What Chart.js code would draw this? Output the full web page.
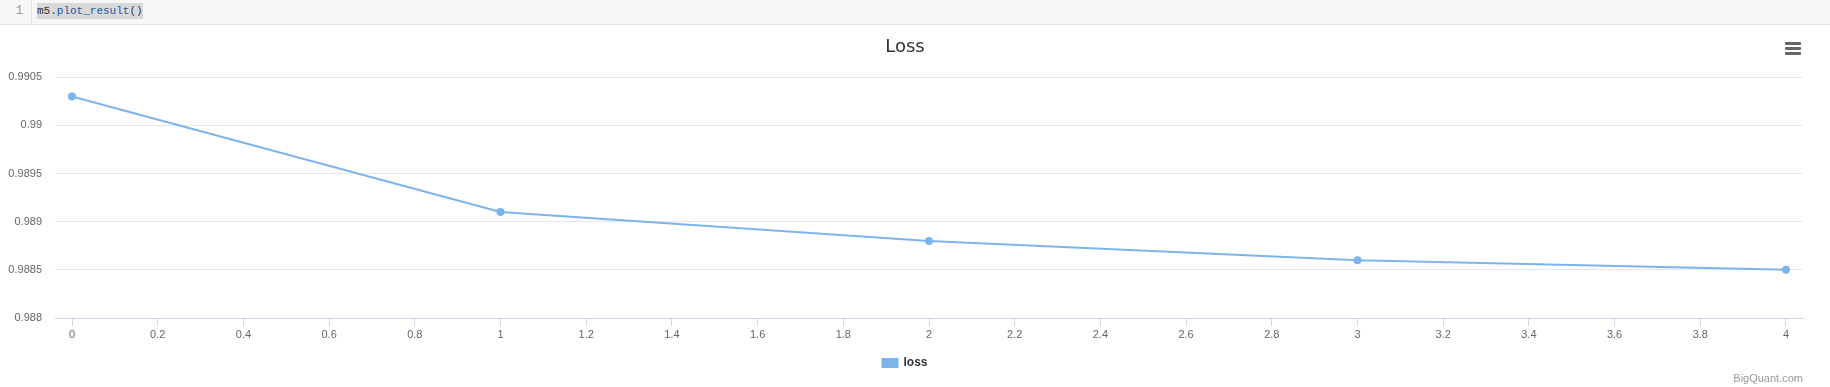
<!DOCTYPE html>
<html>
<head>
<meta charset="utf-8">
<script src="https://cdn.jsdelivr.net/npm/chart.js@4"></script>
<style>
  html, body { margin: 0; padding: 0; background: #fff; width: 1830px; height: 387px; overflow: hidden; }
  .cell-head { position: absolute; left: 0; top: 0; width: 1830px; height: 24px; background: #f7f7f7; border-bottom: 1px solid #e3e3e3; }
  .lineno { position: absolute; left: 0; top: 0; width: 32px; height: 24px; border-right: 1px solid #e3e3e3; font: 12px "Liberation Mono", monospace; color: #999; line-height: 22px; text-align: right; box-sizing: border-box; padding-right: 8px; }
  .code { position: absolute; left: 37px; top: 3px; height: 16px; background: #d9d9d9; font: 11px "Liberation Mono", monospace; line-height: 16px; color: #333; }
  .code .fn { color: #1d5aa8; }
  .wrap { position: absolute; left: 0; top: 25px; width: 1810px; height: 362px; }
  .menu { position: absolute; left: 1785px; top: 42px; width: 16px; }
  .menu div { height: 3px; background: #666; margin-bottom: 2px; border-radius: 1px; }
  .credit { position: absolute; right: 27px; top: 372px; font: 11px "Liberation Sans", Arial, sans-serif; color: #999; }
</style>
</head>
<body>
<div class="cell-head">
  <div class="lineno">1</div>
  <div class="code">m5.<span class="fn">plot_result</span>()</div>
</div>
<div class="wrap"><canvas id="lossChart" width="1810" height="362"></canvas></div>
<div class="menu"><div></div><div></div><div></div></div>
<div class="credit">BigQuant.com</div>
<script>
const epochs = [0, 1, 2, 3, 4];
const lossValues = [0.9903, 0.9891, 0.9888, 0.9886, 0.9885];
const xTicks = [0, 0.2, 0.4, 0.6, 0.8, 1, 1.2, 1.4, 1.6, 1.8, 2, 2.2, 2.4, 2.6, 2.8, 3, 3.2, 3.4, 3.6, 3.8, 4];
const yTicks = [0.988, 0.9885, 0.989, 0.9895, 0.99, 0.9905];

const labelFont = { family: '"Liberation Sans", Arial, sans-serif', size: 11 };

const ctx = document.getElementById('lossChart').getContext('2d');
new Chart(ctx, {
    type: 'line',
    data: {
        datasets: [{
            label: 'loss',
            data: epochs.map((e, i) => ({ x: e, y: lossValues[i] })),
            borderColor: '#7cb5ec',
            backgroundColor: '#7cb5ec',
            borderWidth: 2,
            pointRadius: 4,
            pointBorderWidth: 0,
            pointBackgroundColor: '#7cb5ec',
            tension: 0,
            fill: false
        }]
    },
    options: {
        responsive: false,
        animation: false,
        layout: { padding: { left: 7, right: 7, top: 0, bottom: 8 } },
        plugins: {
            title: {
                display: true,
                text: 'Loss',
                color: '#333',
                font: { family: '"Lucida Grande", "DejaVu Sans", sans-serif', size: 18, weight: 'normal' },
                padding: { top: 12, bottom: 18.6 }
            },
            legend: {
                position: 'bottom',
                labels: {
                    boxWidth: 15,
                    boxHeight: 8,
                    padding: 10,
                    color: '#333',
                    font: { family: '"Liberation Sans", Arial, sans-serif', size: 12, weight: 'bold' }
                }
            },
            tooltip: { enabled: false }
        },
        scales: {
            x: {
                type: 'linear',
                min: -0.0397,
                max: 4.0397,
                afterBuildTicks: scale => { scale.ticks = xTicks.map(v => ({ value: v })); },
                afterFit: scale => { scale.height = 29; },
                grid: { display: true, drawOnChartArea: false, drawTicks: true, tickLength: 8, color: '#ccd6eb' },
                border: { display: true, color: '#ccd6eb' },
                ticks: {
                    color: '#666',
                    font: labelFont,
                    padding: 2,
                    maxRotation: 0,
                    autoSkip: false,
                    callback: v => String(parseFloat(Number(v).toFixed(1)))
                }
            },
            y: {
                min: 0.988,
                max: 0.9905,
                afterBuildTicks: scale => { scale.ticks = yTicks.map(v => ({ value: v })); },
                afterFit: scale => { scale.width = 48; },
                grid: { color: '#e6e6e6', drawTicks: false },
                border: { display: false },
                ticks: {
                    color: '#666',
                    font: labelFont,
                    padding: 13,
                    callback: v => String(parseFloat(Number(v).toFixed(4)))
                }
            }
        }
    }
});
</script>
</body>
</html>
